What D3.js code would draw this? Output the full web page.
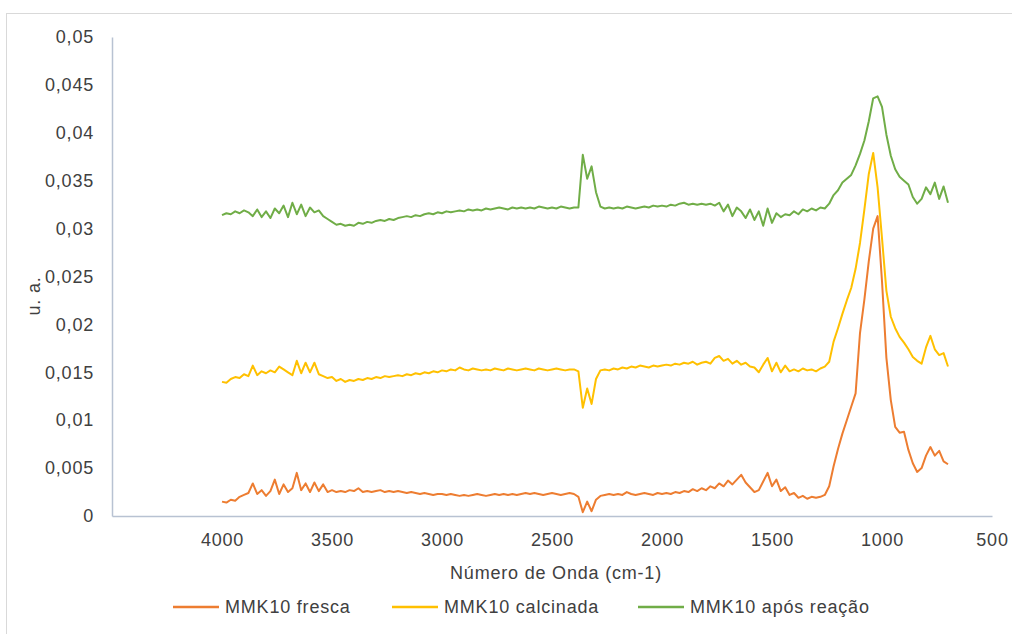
<!DOCTYPE html>
<html>
<head>
<meta charset="utf-8">
<script src="https://cdn.jsdelivr.net/npm/d3@7/dist/d3.min.js"></script>
<style>
  html, body { margin: 0; padding: 0; background: #ffffff; }
  svg { display: block; }
  text { font-family: "Liberation Sans", Arial, sans-serif; fill: #404040; }
</style>
</head>
<body>
<svg id="chart" width="1012" height="634"></svg>
<script>
// FTIR spectra of MMK10 samples, wavenumber grid in cm-1 (20 cm-1 step)
const wavenumbers = [
  4000,3980,3960,3940,3920,3900,3880,3860,3840,3820,
  3800,3780,3760,3740,3720,3700,3680,3660,3640,3620,
  3600,3580,3560,3540,3520,3500,3480,3460,3440,3420,
  3400,3380,3360,3340,3320,3300,3280,3260,3240,3220,
  3200,3180,3160,3140,3120,3100,3080,3060,3040,3020,
  3000,2980,2960,2940,2920,2900,2880,2860,2840,2820,
  2800,2780,2760,2740,2720,2700,2680,2660,2640,2620,
  2600,2580,2560,2540,2520,2500,2480,2460,2440,2420,
  2400,2380,2360,2340,2320,2300,2280,2260,2240,2220,
  2200,2180,2160,2140,2120,2100,2080,2060,2040,2020,
  2000,1980,1960,1940,1920,1900,1880,1860,1840,1820,
  1800,1780,1760,1740,1720,1700,1680,1660,1640,1620,
  1600,1580,1560,1540,1520,1500,1480,1460,1440,1420,
  1400,1380,1360,1340,1320,1300,1280,1260,1240,1220,
  1200,1180,1160,1140,1120,1100,1080,1060,1040,1020,
  1000,980,960,940,920,900,880,860,840,820,
  800,780,760,740,720,700
];

const fresca = [
  0.0015,0.0014,0.0017,0.0016,0.0020,0.0022,0.0024,0.0034,0.0023,0.0027,
  0.0021,0.0026,0.0038,0.0023,0.0033,0.0025,0.0029,0.0045,0.0027,0.0034,
  0.0025,0.0035,0.0026,0.0033,0.0025,0.0027,0.0025,0.0026,0.0025,0.0027,
  0.0026,0.0029,0.0025,0.0026,0.0025,0.0026,0.0027,0.0025,0.0026,0.0025,
  0.0026,0.0025,0.0024,0.0025,0.0024,0.0023,0.0024,0.0023,0.0022,0.0023,
  0.0023,0.0022,0.0023,0.0022,0.0021,0.0022,0.0021,0.0022,0.0023,0.0022,
  0.0021,0.0022,0.0023,0.0022,0.0023,0.0022,0.0023,0.0022,0.0023,0.0024,
  0.0023,0.0024,0.0023,0.0022,0.0023,0.0024,0.0023,0.0022,0.0023,0.0024,
  0.0023,0.0020,0.0004,0.0015,0.0005,0.0017,0.0021,0.0022,0.0023,0.0022,
  0.0023,0.0022,0.0025,0.0023,0.0022,0.0023,0.0024,0.0023,0.0022,0.0024,
  0.0023,0.0024,0.0023,0.0025,0.0024,0.0026,0.0025,0.0028,0.0026,0.0029,
  0.0027,0.0031,0.0029,0.0034,0.0031,0.0037,0.0033,0.0038,0.0043,0.0035,
  0.0030,0.0025,0.0027,0.0036,0.0045,0.0031,0.0038,0.0026,0.0030,0.0022,
  0.0024,0.0019,0.0021,0.0018,0.0020,0.0019,0.0020,0.0022,0.0031,0.0052,
  0.0070,0.0086,0.0100,0.0114,0.0128,0.0191,0.0226,0.0266,0.0300,0.0313,
  0.0245,0.0165,0.0121,0.0093,0.0087,0.0088,0.0069,0.0055,0.0046,0.0050,
  0.0063,0.0072,0.0063,0.0068,0.0057,0.0054
];

const calcinada = [
  0.0140,0.0139,0.0143,0.0145,0.0144,0.0148,0.0146,0.0157,0.0147,0.0151,
  0.0149,0.0152,0.0150,0.0156,0.0153,0.0150,0.0147,0.0162,0.0149,0.0160,
  0.0150,0.0160,0.0148,0.0146,0.0144,0.0145,0.0141,0.0143,0.0140,0.0142,
  0.0141,0.0143,0.0142,0.0144,0.0143,0.0145,0.0144,0.0146,0.0145,0.0146,
  0.0147,0.0146,0.0148,0.0147,0.0149,0.0148,0.0150,0.0149,0.0151,0.0150,
  0.0152,0.0151,0.0153,0.0152,0.0155,0.0153,0.0152,0.0154,0.0153,0.0152,
  0.0153,0.0152,0.0154,0.0153,0.0152,0.0154,0.0153,0.0152,0.0153,0.0154,
  0.0153,0.0152,0.0154,0.0153,0.0152,0.0153,0.0154,0.0153,0.0152,0.0153,
  0.0153,0.0151,0.0113,0.0133,0.0117,0.0143,0.0152,0.0153,0.0152,0.0154,
  0.0153,0.0155,0.0154,0.0156,0.0155,0.0157,0.0156,0.0155,0.0157,0.0156,
  0.0157,0.0158,0.0157,0.0159,0.0158,0.0160,0.0159,0.0161,0.0158,0.0160,
  0.0161,0.0159,0.0165,0.0167,0.0162,0.0164,0.0159,0.0162,0.0158,0.0160,
  0.0156,0.0155,0.0150,0.0158,0.0165,0.0151,0.0160,0.0150,0.0157,0.0151,
  0.0153,0.0151,0.0154,0.0152,0.0153,0.0151,0.0154,0.0156,0.0161,0.0182,
  0.0196,0.0211,0.0225,0.0238,0.0258,0.0285,0.0320,0.0357,0.0379,0.0343,
  0.0290,0.0235,0.0208,0.0196,0.0187,0.0181,0.0174,0.0166,0.0162,0.0159,
  0.0176,0.0188,0.0174,0.0168,0.0170,0.0156
];

const aposReacao = [
  0.0314,0.0316,0.0315,0.0318,0.0316,0.0319,0.0317,0.0313,0.0320,0.0312,
  0.0318,0.0311,0.0321,0.0316,0.0324,0.0312,0.0327,0.0315,0.0325,0.0313,
  0.0322,0.0317,0.0319,0.0313,0.0310,0.0307,0.0304,0.0305,0.0303,0.0304,
  0.0303,0.0306,0.0305,0.0307,0.0306,0.0308,0.0309,0.0308,0.0310,0.0309,
  0.0311,0.0312,0.0313,0.0312,0.0314,0.0313,0.0315,0.0316,0.0315,0.0317,
  0.0316,0.0318,0.0317,0.0318,0.0319,0.0318,0.0320,0.0319,0.0320,0.0319,
  0.0321,0.0320,0.0321,0.0322,0.0321,0.0320,0.0322,0.0321,0.0322,0.0321,
  0.0322,0.0321,0.0323,0.0322,0.0321,0.0322,0.0321,0.0323,0.0322,0.0321,
  0.0322,0.0322,0.0377,0.0352,0.0365,0.0338,0.0323,0.0321,0.0322,0.0321,
  0.0322,0.0321,0.0323,0.0322,0.0321,0.0322,0.0323,0.0322,0.0324,0.0323,
  0.0324,0.0323,0.0325,0.0324,0.0326,0.0327,0.0325,0.0326,0.0325,0.0326,
  0.0325,0.0326,0.0324,0.0327,0.0318,0.0325,0.0313,0.0322,0.0318,0.0311,
  0.0320,0.0309,0.0318,0.0303,0.0321,0.0306,0.0316,0.0312,0.0315,0.0314,
  0.0318,0.0315,0.0320,0.0318,0.0321,0.0319,0.0322,0.0321,0.0326,0.0335,
  0.0340,0.0348,0.0352,0.0356,0.0366,0.0378,0.0392,0.0412,0.0436,0.0438,
  0.0427,0.0398,0.0376,0.0362,0.0354,0.0350,0.0346,0.0333,0.0326,0.0331,
  0.0343,0.0336,0.0348,0.0331,0.0344,0.0327
];

const seriesNames = ["MMK10 fresca", "MMK10 calcinada", "MMK10 após reação"];
const seriesColors = ["#ED7D31", "#FFC000", "#70AD47"];
const xTicks = [4000, 3500, 3000, 2500, 2000, 1500, 1000, 500];
const yTicks = [0, 0.005, 0.01, 0.015, 0.02, 0.025, 0.03, 0.035, 0.04, 0.045, 0.05];

const series = [fresca, calcinada, aposReacao].map((vals, i) => ({
  name: seriesNames[i],
  color: seriesColors[i],
  points: wavenumbers.map((w, j) => ({ w, v: vals[j] }))
}));

const svg = d3.select("#chart");

// chart frame
svg.append("rect")
  .attr("x", 6.5).attr("y", 13.5)
  .attr("width", 1020).attr("height", 640)
  .attr("fill", "#ffffff")
  .attr("stroke", "#d9d9d9").attr("stroke-width", 1);

const x = d3.scaleLinear().domain([4500, 500]).range([112, 992]);
const y = d3.scaleLinear().domain([0, 0.05]).range([516, 37]);

const fmt = v => (v === 0 ? "0" : d3.format("~g")(+v.toFixed(3)).replace(".", ","));

// y axis
const yAxis = svg.append("g")
  .attr("transform", `translate(${x(4500)},0)`)
  .call(d3.axisLeft(y).tickValues(yTicks).tickSize(0).tickPadding(18).tickFormat(fmt));
yAxis.select(".domain").attr("stroke", "#b8c2d2").attr("stroke-width", 1.5);
yAxis.selectAll("text")
  .style("font-family", '"Liberation Sans", Arial, sans-serif')
  .style("font-size", "18px").style("letter-spacing", "0.8px")
  .attr("fill", "#404040");

// x axis
const xAxis = svg.append("g")
  .attr("transform", `translate(0,${y(0)})`)
  .call(d3.axisBottom(x).tickValues(xTicks).tickSize(0).tickPadding(17).tickFormat(d3.format("d")));
xAxis.select(".domain").attr("stroke", "#b8c2d2").attr("stroke-width", 1.5);
xAxis.selectAll("text")
  .style("font-family", '"Liberation Sans", Arial, sans-serif')
  .style("font-size", "18px").style("letter-spacing", "0.8px")
  .attr("fill", "#404040");

// spectra
const line = d3.line().x(d => x(d.w)).y(d => y(d.v));
svg.append("g").selectAll("path")
  .data(series)
  .join("path")
  .attr("d", d => line(d.points))
  .attr("fill", "none")
  .attr("stroke", d => d.color)
  .attr("stroke-width", 2)
  .attr("stroke-linejoin", "round");

// axis titles
svg.append("text")
  .attr("x", 556).attr("y", 579)
  .attr("text-anchor", "middle")
  .style("font-size", "18px").style("letter-spacing", "0.8px")
  .text("Número de Onda (cm-1)");

svg.append("text")
  .attr("transform", "translate(40,296) rotate(-90)")
  .attr("text-anchor", "middle")
  .style("font-size", "18px").style("letter-spacing", "0.8px")
  .text("u. a.");

// legend
const legendX = [173, 392, 638];
const legend = svg.append("g").selectAll("g")
  .data(series)
  .join("g")
  .attr("transform", (d, i) => `translate(${legendX[i]},607)`);
legend.append("line")
  .attr("x1", 0).attr("x2", 46)
  .attr("stroke", d => d.color).attr("stroke-width", 2.5);
legend.append("text")
  .attr("x", 52).attr("dy", "0.35em")
  .style("font-size", "18px").style("letter-spacing", "0.8px")
  .text(d => d.name);
</script>
</body>
</html>
